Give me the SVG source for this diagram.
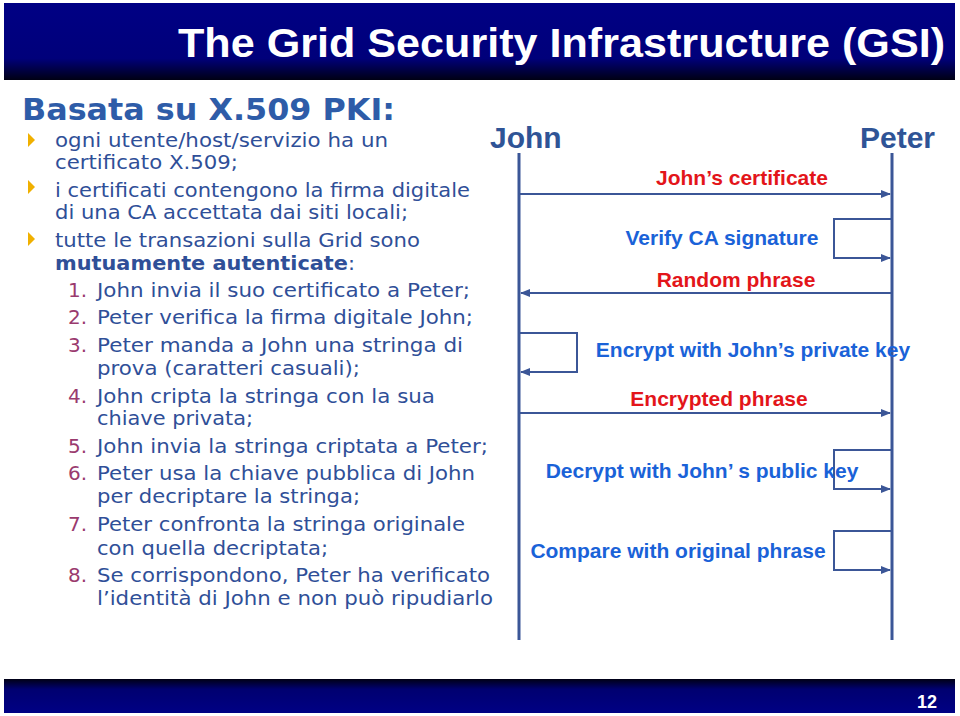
<svg xmlns="http://www.w3.org/2000/svg" width="960" height="716" viewBox="0 0 960 716">
<style>
.body{font-family:"DejaVu Sans","Verdana",sans-serif;font-size:20px;fill:#2F4F98}
.num{fill:#9A3A6E}
.actor{font-family:"Liberation Sans",Arial,sans-serif;font-weight:bold;font-size:30px;fill:#2F5496}
.msg{font-family:"Liberation Sans",Arial,sans-serif;font-weight:bold;font-size:21px;fill:#E3151A}
.act{font-family:"Liberation Sans",Arial,sans-serif;font-weight:bold;font-size:21px;fill:#1A62D8}
.life{stroke:#3B5697;stroke-width:3;fill:none}
.conn{stroke:#3B5697;stroke-width:2;fill:none}
</style>
<defs>
<linearGradient id="hdr" x1="0" y1="0" x2="0" y2="1">
<stop offset="0" stop-color="#000084"/>
<stop offset="0.72" stop-color="#00007A"/>
<stop offset="1" stop-color="#000014"/>
</linearGradient>
<linearGradient id="ftr" x1="0" y1="0" x2="0" y2="1">
<stop offset="0" stop-color="#000014"/>
<stop offset="0.3" stop-color="#000070"/>
<stop offset="1" stop-color="#000084"/>
</linearGradient>
<marker id="ah" markerWidth="10" markerHeight="8" refX="9" refY="4" orient="auto" markerUnits="userSpaceOnUse">
<path d="M0,0 L10,4 L0,8 Z" fill="#3B5697"/>
</marker>
</defs>
<rect width="960" height="716" fill="#FFFFFF"/>
<g id="header">
<rect x="4" y="3" width="951" height="77" fill="url(#hdr)"/>
<text x="178" y="57" font-family="'Liberation Sans',Arial,sans-serif" font-weight="bold" font-size="41" fill="#FFFFFF" textLength="767" lengthAdjust="spacingAndGlyphs">The Grid Security Infrastructure (GSI)</text>
</g>
<g id="footer">
<rect x="4" y="679" width="951" height="34" fill="url(#ftr)"/>
<text x="937" y="708" text-anchor="end" font-family="'Liberation Sans',Arial,sans-serif" font-weight="bold" font-size="18" fill="#FFFFFF">12</text>
</g>
<g id="left-text">
<text x="22" y="120" font-family="'DejaVu Sans',Verdana,sans-serif" font-weight="bold" font-size="30" fill="#2E5CA8" textLength="373" lengthAdjust="spacingAndGlyphs">Basata su X.509 PKI:</text>
<g fill="#F0B000">
<path d="M28,133 L35,140 L28,147 Z"/>
<path d="M28,180 L35,187 L28,194 Z"/>
<path d="M28,232 L35,239 L28,246 Z"/>
</g>
<text class="body" x="55" y="147" textLength="333" lengthAdjust="spacingAndGlyphs">ogni utente/host/servizio ha un</text>
<text class="body" x="55" y="169" textLength="183" lengthAdjust="spacingAndGlyphs">certificato X.509;</text>
<text class="body" x="55" y="197" textLength="415" lengthAdjust="spacingAndGlyphs">i certificati contengono la firma digitale</text>
<text class="body" x="55" y="219" textLength="353" lengthAdjust="spacingAndGlyphs">di una CA accettata dai siti locali;</text>
<text class="body" x="55" y="247" textLength="365" lengthAdjust="spacingAndGlyphs">tutte le transazioni sulla Grid sono</text>
<text class="body" x="55" y="270" textLength="300" lengthAdjust="spacingAndGlyphs"><tspan font-weight="bold">mutuamente autenticate</tspan>:</text>
<g class="body num">
<text x="68" y="297">1.</text>
<text x="68" y="324">2.</text>
<text x="68" y="352">3.</text>
<text x="68" y="403">4.</text>
<text x="68" y="453">5.</text>
<text x="68" y="480">6.</text>
<text x="68" y="531">7.</text>
<text x="68" y="582">8.</text>
</g>
<text class="body" x="97" y="297" textLength="373" lengthAdjust="spacingAndGlyphs">John invia il suo certificato a Peter;</text>
<text class="body" x="97" y="324" textLength="376" lengthAdjust="spacingAndGlyphs">Peter verifica la firma digitale John;</text>
<text class="body" x="97" y="352" textLength="366" lengthAdjust="spacingAndGlyphs">Peter manda a John una stringa di</text>
<text class="body" x="97" y="375" textLength="263" lengthAdjust="spacingAndGlyphs">prova (caratteri casuali);</text>
<text class="body" x="97" y="403" textLength="338" lengthAdjust="spacingAndGlyphs">John cripta la stringa con la sua</text>
<text class="body" x="97" y="425" textLength="156" lengthAdjust="spacingAndGlyphs">chiave privata;</text>
<text class="body" x="97" y="453" textLength="391" lengthAdjust="spacingAndGlyphs">John invia la stringa criptata a Peter;</text>
<text class="body" x="97" y="480" textLength="378" lengthAdjust="spacingAndGlyphs">Peter usa la chiave pubblica di John</text>
<text class="body" x="97" y="503" textLength="263" lengthAdjust="spacingAndGlyphs">per decriptare la stringa;</text>
<text class="body" x="97" y="531" textLength="368" lengthAdjust="spacingAndGlyphs">Peter confronta la stringa originale</text>
<text class="body" x="97" y="555" textLength="231" lengthAdjust="spacingAndGlyphs">con quella decriptata;</text>
<text class="body" x="97" y="582" textLength="393" lengthAdjust="spacingAndGlyphs">Se corrispondono, Peter ha verificato</text>
<text class="body" x="97" y="605" textLength="396" lengthAdjust="spacingAndGlyphs">l’identità di John e non può ripudiarlo</text>
</g>
<g id="john">
<text class="actor" x="490" y="148">John</text>
<line class="life" x1="519" y1="153" x2="519" y2="640"/>
</g>
<g id="peter">
<text class="actor" x="860" y="148">Peter</text>
<line class="life" x1="892" y1="153" x2="892" y2="640"/>
</g>
<g id="connectors">
<line class="conn" x1="519" y1="194" x2="890" y2="194" marker-end="url(#ah)"/>
<polyline class="conn" points="891,219 834,219 834,258 890,258" marker-end="url(#ah)"/>
<line class="conn" x1="891" y1="293" x2="521" y2="293" marker-end="url(#ah)"/>
<polyline class="conn" points="520,333 577,333 577,372 521,372" marker-end="url(#ah)"/>
<line class="conn" x1="519" y1="413" x2="890" y2="413" marker-end="url(#ah)"/>
<polyline class="conn" points="891,450 834,450 834,489 890,489" marker-end="url(#ah)"/>
<polyline class="conn" points="891,531 834,531 834,570 890,570" marker-end="url(#ah)"/>
</g>
<g id="labels">
<text class="msg" x="742" y="185" text-anchor="middle">John’s certificate</text>
<text class="act" x="722" y="245" text-anchor="middle">Verify CA signature</text>
<text class="msg" x="736" y="287" text-anchor="middle">Random phrase</text>
<text class="act" x="753" y="357" text-anchor="middle">Encrypt with John’s private key</text>
<text class="msg" x="719" y="406" text-anchor="middle">Encrypted phrase</text>
<text class="act" x="702" y="478" text-anchor="middle">Decrypt with John’ s public key</text>
<text class="act" x="678" y="558" text-anchor="middle">Compare with original phrase</text>
</g>
</svg>
